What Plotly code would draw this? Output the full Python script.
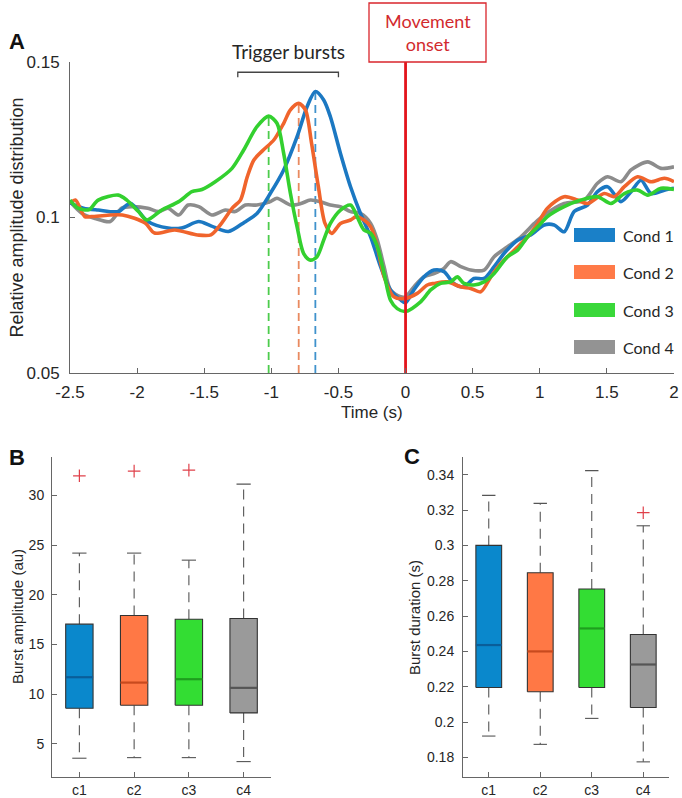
import plotly.graph_objects as go

W, H = 682, 798

# ---------------- Panel A data ----------------
time_c1 = [-2.5, -2.4, -2.29, -2.14, -2.05, -1.92, -1.77, -1.67, -1.54, -1.45, -1.32, -1.2, -1.107, -1.007,
           -0.908, -0.808, -0.734, -0.672, -0.61, -0.56, -0.485, -0.41, -0.336, -0.26, -0.186, -0.112, -0.037,
           0.0, 0.062, 0.137, 0.212, 0.286, 0.36, 0.435, 0.51, 0.585, 0.66, 0.735, 0.835, 0.933, 1.033, 1.107,
           1.182, 1.256, 1.356, 1.43, 1.505, 1.605, 1.68, 1.754, 1.829, 1.928, 2.0]
cond1 = [0.1047, 0.103, 0.1024, 0.1019, 0.1046, 0.0987, 0.0966, 0.0966, 0.0987, 0.0973, 0.0955, 0.0985, 0.1013,
         0.1078, 0.1153, 0.126, 0.1356, 0.1405, 0.1378, 0.1324, 0.1206, 0.1099, 0.1013, 0.0938, 0.0842, 0.0767,
         0.0735, 0.0726, 0.0767, 0.0809, 0.0831, 0.0826, 0.0788, 0.0777, 0.0804, 0.0804, 0.0842, 0.0885, 0.0927,
         0.0944, 0.0976, 0.0976, 0.0954, 0.1019, 0.104, 0.1083, 0.1099, 0.1051, 0.1083, 0.112, 0.1077, 0.1088, 0.1094]

time_c2 = [-2.5, -2.46, -2.39, -2.34, -2.11, -1.94, -1.87, -1.72, -1.55, -1.45, -1.37, -1.29, -1.23, -1.18, -1.13,
           -1.06, -0.98, -0.908, -0.858, -0.796, -0.746, -0.7, -0.65, -0.6, -0.55, -0.485, -0.41, -0.37, -0.31,
           -0.26, -0.21, -0.16, -0.087, 0.0, 0.087, 0.162, 0.212, 0.311, 0.411, 0.485, 0.56, 0.635, 0.71, 0.81,
           0.91, 0.985, 1.057, 1.182, 1.281, 1.356, 1.48, 1.555, 1.63, 1.729, 1.829, 1.928, 2.0]
cond2 = [0.1046, 0.1056, 0.1003, 0.1003, 0.1008, 0.0982, 0.095, 0.096, 0.0944, 0.0944, 0.0982, 0.1031, 0.1056,
         0.113, 0.1185, 0.1217, 0.125, 0.1303, 0.1346, 0.1367, 0.1346, 0.1238, 0.11, 0.0981, 0.0949, 0.0981,
         0.0992, 0.1002, 0.0992, 0.097, 0.0906, 0.081, 0.0745, 0.074, 0.0756, 0.0783, 0.0788, 0.0793, 0.0777,
         0.0772, 0.0761, 0.0809, 0.0852, 0.0895, 0.0938, 0.0981, 0.103, 0.1067, 0.1056, 0.1045, 0.1077, 0.1067,
         0.1099, 0.1131, 0.1115, 0.1126, 0.1115]

time_c3 = [-2.5, -2.44, -2.36, -2.29, -2.14, -2.077, -1.99, -1.928, -1.816, -1.69, -1.592, -1.517, -1.418, -1.293,
           -1.206, -1.107, -1.02, -0.958, -0.908, -0.858, -0.808, -0.759, -0.709, -0.66, -0.61, -0.56, -0.485,
           -0.41, -0.36, -0.31, -0.26, -0.21, -0.16, -0.112, -0.062, 0.0, 0.112, 0.187, 0.261, 0.336, 0.386, 0.435,
           0.51, 0.585, 0.66, 0.76, 0.835, 0.91, 0.985, 1.057, 1.182, 1.306, 1.43, 1.53, 1.63, 1.729, 1.804, 1.903, 2.0]
cond3 = [0.1056, 0.103, 0.1025, 0.1056, 0.1072, 0.1056, 0.1019, 0.0992, 0.1024, 0.1051, 0.1083, 0.109, 0.1115,
         0.1158, 0.1217, 0.1292, 0.1326, 0.1303, 0.1206, 0.1078, 0.097, 0.0884, 0.0863, 0.0874, 0.0927, 0.0981,
         0.1024, 0.104, 0.1002, 0.096, 0.0949, 0.0906, 0.082, 0.0734, 0.0707, 0.0698, 0.0729, 0.0767, 0.0788,
         0.0793, 0.0809, 0.0788, 0.0783, 0.0793, 0.082, 0.0874, 0.0895, 0.0938, 0.097, 0.1003, 0.1035, 0.1056,
         0.1067, 0.1045, 0.1077, 0.1088, 0.1072, 0.1094, 0.109]

time_c4 = [-2.5, -2.413, -2.313, -2.2, -2.114, -2.04, -1.92, -1.84, -1.77, -1.69, -1.62, -1.54, -1.443, -1.343,
           -1.27, -1.194, -1.107, -1.007, -0.958, -0.858, -0.78, -0.709, -0.63, -0.56, -0.485, -0.41, -0.336,
           -0.26, -0.21, -0.16, -0.112, -0.037, 0.0, 0.062, 0.137, 0.212, 0.286, 0.336, 0.411, 0.485, 0.585, 0.66,
           0.76, 0.86, 0.96, 1.033, 1.182, 1.331, 1.43, 1.505, 1.605, 1.68, 1.804, 1.903, 2.0]
cond4 = [0.1051, 0.1014, 0.0997, 0.0987, 0.103, 0.1035, 0.103, 0.1019, 0.103, 0.1008, 0.104, 0.1035, 0.1008,
         0.1024, 0.1019, 0.104, 0.104, 0.1051, 0.1062, 0.104, 0.1045, 0.1056, 0.105, 0.104, 0.1035, 0.1019,
         0.1013, 0.0981, 0.0927, 0.0842, 0.0767, 0.0745, 0.0745, 0.0777, 0.0809, 0.082, 0.0836, 0.0858, 0.0842,
         0.0831, 0.0831, 0.0874, 0.0906, 0.0938, 0.0981, 0.1008, 0.1045, 0.1056, 0.111, 0.1131, 0.1115, 0.1153,
         0.1179, 0.1158, 0.1163]

cond_names = ["Cond 1", "Cond 2", "Cond 3", "Cond 4"]
time_ticks = [-2.5, -2, -1.5, -1, -0.5, 0, 0.5, 1, 1.5, 2]
time_tick_labels = ["-2.5", "-2", "-1.5", "-1", "-0.5", "0", "0.5", "1", "1.5", "2"]
amp_ticks = [0.05, 0.1, 0.15]
amp_tick_labels = ["0.05", "0.1", "0.15"]
trigger_window = [-1.25, -0.5]
movement_onset = 0.0

# ---------------- Panels B / C data ----------------
box_labels = ["c1", "c2", "c3", "c4"]
amp_q1 = [8.59, 8.89, 8.89, 8.12]
amp_med = [11.71, 11.17, 11.51, 10.64]
amp_q3 = [17.05, 17.92, 17.55, 17.62]
amp_lo = [3.56, 3.62, 3.62, 3.22]
amp_hi = [24.2, 24.2, 23.49, 31.14]
amp_out = [[31.98], [32.45], [32.55], []]
amp_box_ticks = [5, 10, 15, 20, 25, 30]

dur_q1 = [0.2196, 0.2172, 0.2196, 0.2083]
dur_med = [0.2436, 0.2400, 0.2530, 0.2326]
dur_q3 = [0.3000, 0.2845, 0.2753, 0.2496]
dur_lo = [0.1921, 0.1874, 0.2021, 0.1775]
dur_hi = [0.3283, 0.3238, 0.3423, 0.3111]
dur_out = [[], [], [], [0.3185]]
dur_box_ticks = [0.18, 0.2, 0.22, 0.24, 0.26, 0.28, 0.3, 0.32, 0.34]
dur_box_tick_labels = ["0.18", "0.2", "0.22", "0.24", "0.26", "0.28", "0.3", "0.32", "0.34"]

# ---------------- styles ----------------
line_colors = ["#1b78c2", "#f0642c", "#33d02f", "#8c8c8c"]
legend_colors = ["#1a80c8", "#ff7a48", "#3ad83a", "#939393"]
dash_colors = ["#3f92cc", "#e98a60", "#4ccc4c"]
box_fill = ["#0a88cc", "#ff7845", "#33dd33", "#9a9a9a"]
box_median = ["#0a5e99", "#c84a1e", "#1e9e1e", "#555555"]
AX = "#666666"
TXT = "#262626"
SANS = "Liberation Sans, Arial, sans-serif"
CAL = "Lato, Open Sans, sans-serif"


def px(x):
    return x / W


def py(y):
    return 1 - y / H


fig = go.Figure()

series = [(time_c1, cond1), (time_c2, cond2), (time_c3, cond3), (time_c4, cond4)]

# dashed peak markers for cond 1-3
for k in range(3):
    t, v = series[k]
    i = max(range(len(v)), key=lambda j: v[j])
    fig.add_trace(go.Scatter(x=[t[i], t[i]], y=[amp_ticks[0], v[i]], mode="lines",
                             line=dict(color=dash_colors[k], width=1.8, dash="8px,5px"),
                             xaxis="x", yaxis="y", hoverinfo="skip"))

for k in [3, 0, 1, 2]:
    t, v = series[k]
    fig.add_trace(go.Scatter(x=t, y=v, mode="lines", name=cond_names[k],
                             line=dict(color=line_colors[k], width=3.6, shape="spline", smoothing=0.8),
                             xaxis="x", yaxis="y"))

# movement onset line
fig.add_trace(go.Scatter(x=[movement_onset, movement_onset], y=[amp_ticks[0], amp_ticks[-1]], mode="lines",
                         line=dict(color="#e3141c", width=2.8), xaxis="x", yaxis="y", hoverinfo="skip"))


def add_boxes(xa, ya, q1, med, q3, lo, hi, outs):
    hw, cw = 0.25, 0.13
    for i in range(4):
        c = i + 1
        fig.add_trace(go.Scatter(x=[c, c, None, c, c], y=[q3[i], hi[i], None, q1[i], lo[i]], mode="lines",
                                 line=dict(color="#555555", width=1.1, dash="10px,7px"),
                                 xaxis=xa, yaxis=ya, hoverinfo="skip"))
        fig.add_trace(go.Scatter(x=[c - cw, c + cw, None, c - cw, c + cw], y=[hi[i], hi[i], None, lo[i], lo[i]],
                                 mode="lines", line=dict(color="#555555", width=1.1),
                                 xaxis=xa, yaxis=ya, hoverinfo="skip"))
        fig.add_trace(go.Scatter(x=[c - hw, c + hw, c + hw, c - hw, c - hw], y=[q1[i], q1[i], q3[i], q3[i], q1[i]],
                                 mode="lines", fill="toself", fillcolor=box_fill[i],
                                 line=dict(color="#333333", width=1.1), xaxis=xa, yaxis=ya, hoverinfo="skip"))
        fig.add_trace(go.Scatter(x=[c - hw, c + hw], y=[med[i], med[i]], mode="lines",
                                 line=dict(color=box_median[i], width=2.2), xaxis=xa, yaxis=ya, hoverinfo="skip"))
        if outs[i]:
            fig.add_trace(go.Scatter(x=[c] * len(outs[i]), y=outs[i], mode="markers",
                                     marker=dict(symbol="cross-thin", size=9, line=dict(color="#e0404a", width=1.2)),
                                     xaxis=xa, yaxis=ya, hoverinfo="skip"))


add_boxes("x2", "y2", amp_q1, amp_med, amp_q3, amp_lo, amp_hi, amp_out)
add_boxes("x3", "y3", dur_q1, dur_med, dur_q3, dur_lo, dur_hi, dur_out)

axis_common = dict(showline=True, linecolor=AX, linewidth=1, ticks="inside", tickcolor=AX, ticklen=5,
                   showgrid=False, zeroline=False, mirror=False, automargin=False)

fig.update_layout(
    width=W, height=H, margin=dict(l=0, r=0, t=0, b=0, autoexpand=False),
    paper_bgcolor="white", plot_bgcolor="white", showlegend=False,
    font=dict(family=SANS, color=TXT),
    xaxis=dict(domain=[px(70), px(674)], range=[-2.5, 2], anchor="y", tickvals=time_ticks,
               ticktext=time_tick_labels, tickfont=dict(size=17), ticklabelstandoff=4, **axis_common),
    yaxis=dict(domain=[py(373), py(62)], range=[0.05, 0.15], anchor="x", tickvals=amp_ticks,
               ticktext=amp_tick_labels, tickfont=dict(size=17), ticklabelstandoff=6, **axis_common),
    xaxis2=dict(domain=[px(52), px(271)], range=[0.5, 4.5], anchor="y2", tickvals=[1, 2, 3, 4],
                ticktext=box_labels, tickfont=dict(size=14), ticklabelstandoff=0, **axis_common),
    yaxis2=dict(domain=[py(776.7), py(456.7)], range=[1.7, 33.9], anchor="x2", tickvals=amp_box_ticks,
                tickfont=dict(size=14), ticklabelstandoff=4, **axis_common),
    xaxis3=dict(domain=[px(463), px(669)], range=[0.5, 4.5], anchor="y3", tickvals=[1, 2, 3, 4],
                ticktext=box_labels, tickfont=dict(size=14), ticklabelstandoff=0, **axis_common),
    yaxis3=dict(domain=[py(776.7), py(456.7)], range=[0.1691, 0.3502], anchor="x3", tickvals=dur_box_ticks,
                ticktext=dur_box_tick_labels, tickfont=dict(size=14), ticklabelstandoff=5, **axis_common),
)

shapes = []
tw0, tw1 = trigger_window
shapes.append(dict(type="path", xref="x", yref="y",
                   path=f"M {tw0},0.1451 L {tw0},0.1467 L {tw1},0.1467 L {tw1},0.1451",
                   line=dict(color="#444444", width=1.3)))
shapes.append(dict(type="rect", xref="paper", yref="paper", x0=px(369), x1=px(486), y0=py(62), y1=py(3),
                   line=dict(color="#d9262c", width=1.3), fillcolor="rgba(0,0,0,0)"))
leg_y = [235, 272, 310, 347]
for k in range(4):
    shapes.append(dict(type="rect", xref="paper", yref="paper", x0=px(574), x1=px(615),
                       y0=py(leg_y[k] + 7), y1=py(leg_y[k] - 7), line=dict(width=0),
                       fillcolor=legend_colors[k]))

annotations = []
for k in range(4):
    annotations.append(dict(x=px(621), y=py(leg_y[k]), xref="paper", yref="paper", text=cond_names[k],
                            showarrow=False, xanchor="left", yanchor="middle",
                            font=dict(family=CAL, size=16, color=TXT)))
annotations += [
    dict(x=(tw0 + tw1) / 2, y=py(51), xref="x", yref="paper", text="Trigger bursts", showarrow=False,
         xanchor="center", yanchor="middle", font=dict(family=CAL, size=19, color=TXT)),
    dict(x=px(427.5), y=py(33), xref="paper", yref="paper", text="Movement<br>onset", showarrow=False,
         xanchor="center", yanchor="middle", font=dict(family=CAL, size=18, color="#d22a2e")),
    dict(x=px(17), y=py(217.5), xref="paper", yref="paper", text="Relative amplitude distribution",
         textangle=-90, showarrow=False, xanchor="center", yanchor="middle", font=dict(size=18)),
    dict(x=px(372), y=py(412), xref="paper", yref="paper", text="Time (s)", showarrow=False,
         xanchor="center", yanchor="middle", font=dict(size=17)),
    dict(x=px(17), y=py(617), xref="paper", yref="paper", text="Burst amplitude (au)",
         textangle=-90, showarrow=False, xanchor="center", yanchor="middle", font=dict(size=15)),
    dict(x=px(414), y=py(618), xref="paper", yref="paper", text="Burst duration (s)",
         textangle=-90, showarrow=False, xanchor="center", yanchor="middle", font=dict(size=15)),
    dict(x=px(17), y=py(42), xref="paper", yref="paper", text="<b>A</b>", showarrow=False,
         xanchor="center", yanchor="middle", font=dict(size=22, color="#111111")),
    dict(x=px(17), y=py(457), xref="paper", yref="paper", text="<b>B</b>", showarrow=False,
         xanchor="center", yanchor="middle", font=dict(size=22, color="#111111")),
    dict(x=px(412), y=py(456), xref="paper", yref="paper", text="<b>C</b>", showarrow=False,
         xanchor="center", yanchor="middle", font=dict(size=22, color="#111111")),
]

fig.update_layout(shapes=shapes, annotations=annotations)

fig.write_html("out.html", include_plotlyjs=True, config={"displayModeBar": False},
               post_script="document.body.style.margin='0';document.body.style.padding='0';")
